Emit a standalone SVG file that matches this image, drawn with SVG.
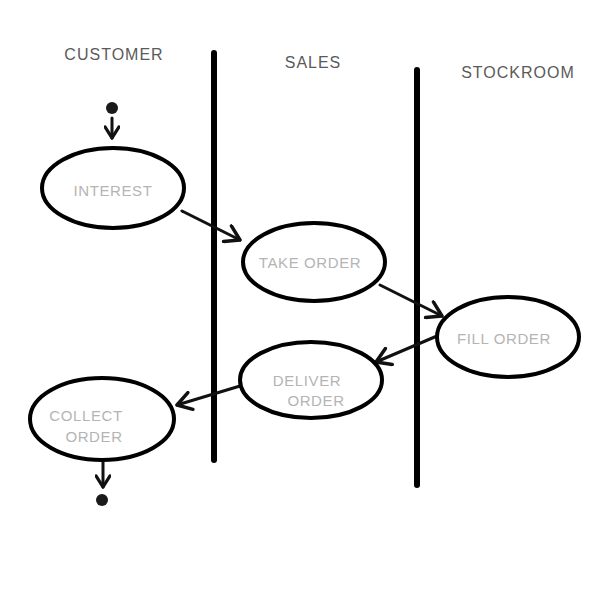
<svg xmlns="http://www.w3.org/2000/svg" width="600" height="600" viewBox="0 0 600 600">
<defs>
<style>
.lane{stroke:#000;stroke-width:6;stroke-linecap:round;fill:none}
.node{fill:#fff;stroke:#000;stroke-width:4}
.lbl{font-family:"Liberation Sans",Arial,sans-serif;font-size:15px;fill:#b4b4b4;text-anchor:middle;letter-spacing:0.6px}
.hdr{font-family:"Liberation Sans",Arial,sans-serif;font-size:16px;fill:#5a5a5a;text-anchor:middle;letter-spacing:1px}
.conn{stroke:#111;stroke-width:3;fill:none;stroke-linecap:round}
.dot{fill:#1a1a1a}
</style>
<marker id="chev" viewBox="0 0 12 12" refX="10" refY="6" markerWidth="7" markerHeight="7" orient="auto" markerUnits="strokeWidth">
<path d="M2,1 L10,6 L2,11" fill="none" stroke="#111" stroke-width="2" stroke-linecap="round" stroke-linejoin="round"/>
</marker>
<marker id="chevB" viewBox="0 0 12 12" refX="10" refY="6" markerWidth="5.5" markerHeight="5.5" orient="auto" markerUnits="strokeWidth">
<path d="M2,1 L10,6 L2,11" fill="none" stroke="#111" stroke-width="2.4" stroke-linecap="round" stroke-linejoin="round"/>
</marker>
</defs>
<rect width="600" height="600" fill="#fff"/>
<g id="headers">
<text class="hdr" x="114" y="60">CUSTOMER</text>
<text class="hdr" x="313" y="68">SALES</text>
<text class="hdr" x="518" y="78">STOCKROOM</text>
</g>
<g id="lanes">
<line class="lane" x1="214" y1="53" x2="214" y2="460"/>
<line class="lane" x1="417" y1="70" x2="417" y2="485"/>
</g>
<g id="connectors">
<line class="conn" x1="112" y1="118" x2="112" y2="138" stroke-width="4" marker-end="url(#chevB)"/>
<line class="conn" x1="182" y1="211" x2="240" y2="240" marker-end="url(#chev)"/>
<line class="conn" x1="380" y1="285" x2="442" y2="316" marker-end="url(#chev)"/>
<line class="conn" x1="437" y1="336" x2="376" y2="362" marker-end="url(#chev)"/>
<line class="conn" x1="240" y1="386" x2="177" y2="405" marker-end="url(#chev)"/>
<line class="conn" x1="103" y1="461" x2="103" y2="487" stroke-width="4" marker-end="url(#chevB)"/>
</g>
<g id="start"><circle class="dot" cx="112" cy="108" r="6"/></g>
<g id="interest">
<ellipse class="node" cx="113" cy="188" rx="71" ry="40"/>
<text class="lbl" x="113" y="196">INTEREST</text>
</g>
<g id="take-order">
<ellipse class="node" cx="314" cy="262" rx="71" ry="39"/>
<text class="lbl" x="310" y="268">TAKE ORDER</text>
</g>
<g id="fill-order">
<ellipse class="node" cx="508" cy="337" rx="71" ry="40"/>
<text class="lbl" x="504" y="344">FILL ORDER</text>
</g>
<g id="deliver-order">
<ellipse class="node" cx="311" cy="380" rx="71" ry="38"/>
<text class="lbl" x="307" y="386">DELIVER</text>
<text class="lbl" x="316" y="406" font-size="12">ORDER</text>
</g>
<g id="collect-order">
<ellipse class="node" cx="102" cy="419" rx="72" ry="41"/>
<text class="lbl" x="86" y="421">COLLECT</text>
<text class="lbl" x="94" y="442">ORDER</text>
</g>
<g id="end"><circle class="dot" cx="102" cy="500" r="6"/></g>
</svg>
